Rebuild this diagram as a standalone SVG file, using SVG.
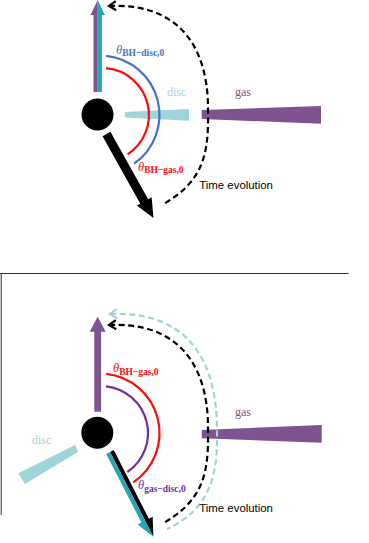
<svg xmlns="http://www.w3.org/2000/svg" width="369" height="543" viewBox="0 0 369 543">
<style>
.serif{font-family:"Liberation Serif","DejaVu Serif",serif}
.sans{font-family:"Liberation Sans",Arial,sans-serif;font-size:11.4px;fill:#000}
.lbl{font-size:12px}
.th{font-style:italic;font-size:12.5px}
.sub{font-size:9.5px;font-weight:bold}
.arc{fill:none;stroke-width:2.2}
.dash{fill:none;stroke-width:2.2;stroke-dasharray:6 3.6}
.purple{fill:#7f5290}
.teal{fill:#25a5b5}
.lteal{fill:#9fd4d8}
</style>
<defs>
<marker id="chevK" markerUnits="userSpaceOnUse" markerWidth="14" markerHeight="14" refX="0" refY="0" viewBox="-10 -7 14 14" orient="auto-start-reverse" overflow="visible">
<path d="M-7,-4.6 L0,0 L-7,4.6" fill="none" stroke="#000" stroke-width="2.2"/>
</marker>
<marker id="chevT" markerUnits="userSpaceOnUse" markerWidth="14" markerHeight="14" refX="0" refY="0" viewBox="-10 -7 14 14" orient="auto-start-reverse" overflow="visible">
<path d="M-7,-4.6 L0,0 L-7,4.6" fill="none" stroke="#9fd4d8" stroke-width="2.2"/>
</marker>
</defs>
<rect width="369" height="543" fill="#fff"/>

<!-- frame of lower panel -->
<g id="frame" fill="none" stroke="#333" stroke-width="1">
<path d="M0,273.5 H348.5"/>
<path d="M1.2,273.5 V515"/>
</g>

<!-- ===== Top panel ===== -->
<g id="top-gas">
<polygon class="purple" points="201.7,110 321,106 321,123.7 201.7,119"/>
<text class="serif lbl" x="235" y="96" fill="#7f5290">gas</text>
</g>
<g id="top-disc">
<polygon class="lteal" points="125,112 189,109 189,120.7 125,117.5"/>
<text class="serif lbl" x="167" y="95.5" fill="#9fd4d8">disc</text>
</g>
<g id="top-angles">
<path class="arc" stroke="#ff0a0a" d="M106.1,68.2 A47,47 0 0 1 127.6,154.4"/>
<path class="arc" stroke="#4472c4" d="M106.2,55.8 A59.5,59.5 0 0 1 134.1,163.7"/>
<text class="serif" x="116" y="53.5" fill="#4472c4"><tspan class="th">θ</tspan><tspan class="sub" dy="2.5">BH−disc,0</tspan></text>
<text class="serif" x="138" y="170.5" fill="#ff0a0a"><tspan class="th">θ</tspan><tspan class="sub" dy="2.5">BH−gas,0</tspan></text>
</g>
<g id="top-spin-up" transform="translate(97.7,92) rotate(-90)">
<polygon class="purple" points="0,-4.2 77,-4.2 77,-7.2 92,0 0,0"/>
<polygon class="teal" points="0,0 92,0 77,7.2 77,4.2 0,4.2"/>
</g>
<g id="top-spin-down" transform="translate(106.5,134) rotate(60.8)">
<polygon fill="#000" points="0,-4.5 77.3,-4.5 77.3,-8.5 96.3,0 77.3,8.5 77.3,4.5 0,4.5"/>
</g>
<g id="top-bh">
<circle cx="97.5" cy="114.5" r="16" fill="#000"/>
</g>
<g id="top-connectors">
<path class="dash" stroke="#000" marker-start="url(#chevK)" d="M109,6 C168,3 209,35 208,112 C209,160 200,183 162,205"/>
</g>
<text id="top-time" class="sans" x="199.3" y="189.3">Time evolution</text>

<!-- ===== Bottom panel ===== -->
<g id="bot-gas">
<polygon class="purple" points="201.7,430 321.7,425 321.7,442.7 201.7,438.3"/>
<text class="serif lbl" x="235" y="415.7" fill="#7f5290">gas</text>
</g>
<g id="bot-disc">
<polygon class="lteal" points="75,445 78.3,451.7 25,484 18.3,473.3"/>
<text class="serif lbl" x="32" y="444.3" fill="#9fd4d8">disc</text>
</g>
<g id="bot-angles">
<path class="arc" stroke="#7030a0" d="M105.9,386.3 A47,47 0 0 1 127.3,472"/>
<path class="arc" stroke="#ff0a0a" d="M106.2,373.8 A59.5,59.5 0 0 1 133.3,482.3"/>
<text class="serif" x="113" y="372.3" fill="#ff0a0a"><tspan class="th">θ</tspan><tspan class="sub" dy="2.5">BH−gas,0</tspan></text>
<text class="serif" x="138" y="489.3" fill="#7030a0"><tspan class="th">θ</tspan><tspan class="sub" dy="2.5">gas−disc,0</tspan></text>
</g>
<g id="bot-spin-up" transform="translate(97.7,411.7) rotate(-90)">
<polygon class="purple" points="0,-3.4 80,-3.4 80,-8 95,0 80,8 80,3.4 0,3.4"/>
</g>
<g id="bot-spin-down" transform="translate(110,452) rotate(62.9)">
<polygon fill="#000" points="0,-4.2 77.1,-4.2 77.1,-8.5 95.1,0 0,0"/>
<polygon class="teal" points="0,0 95.1,0 77.1,8.5 77.1,4.2 0,4.2"/>
</g>
<g id="bot-bh">
<circle cx="97.3" cy="432.7" r="16" fill="#000"/>
</g>
<g id="bot-connectors">
<path class="dash" stroke="#9fd4d8" marker-start="url(#chevT)" d="M110,314 C177,311 218,348 217,433 C218,478 208,510 167,529"/>
<path class="dash" stroke="#000" marker-start="url(#chevK)" transform="translate(0,319)" d="M109,6 C168,3 209,35 208,112 C209,160 200,183 162,205"/>
</g>
<text id="bot-time" class="sans" x="199.3" y="512.3">Time evolution</text>
</svg>
